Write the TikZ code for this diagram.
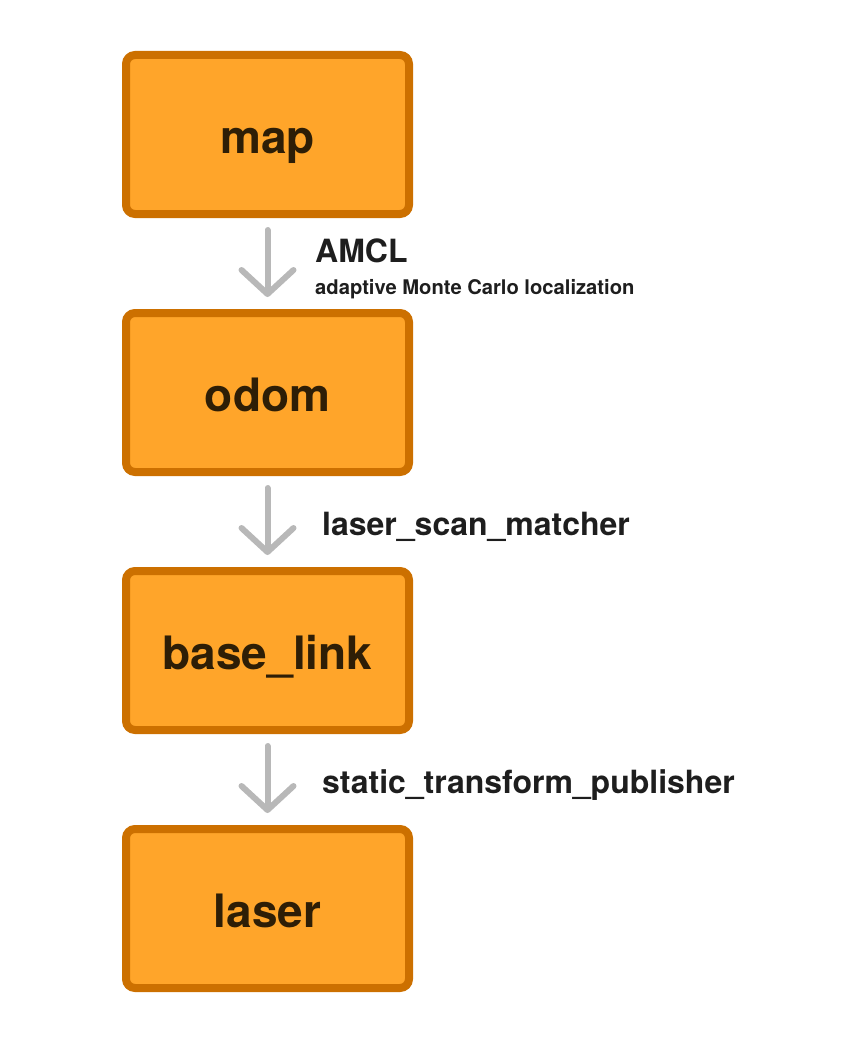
\documentclass[tikz,border=0pt]{standalone}
\usepackage{fontspec}
\setmainfont{TeX Gyre Heros}
\usetikzlibrary{arrows.meta}
\definecolor{boxfill}{HTML}{FFA52A}
\definecolor{boxline}{HTML}{CC7000}
\definecolor{boxtext}{HTML}{2E1E06}
\definecolor{arrowgray}{HTML}{B8B8B8}
\definecolor{labeltext}{HTML}{1E1E1E}
\tikzset{
  frame/.style={draw=boxline, fill=boxfill, line width=8pt, rounded corners=9pt,
    minimum width=283pt, minimum height=159pt, inner sep=0pt,
    text height=37pt, text depth=0pt,
    text=boxtext, font=\bfseries\fontsize{46}{50}\selectfont},
  conn/.style={draw=arrowgray, line width=6pt, line cap=round,
    -{Straight Barb[length=24pt,width=52pt,line cap=round,line join=round]},
    shorten <=12pt, shorten >=12pt},
  lab/.style={anchor=west, inner sep=0pt, text=labeltext, font=\bfseries\fontsize{32}{36}\selectfont},
  sublab/.style={anchor=west, inner sep=0pt, text=labeltext, font=\bfseries\fontsize{20.2}{22}\selectfont}
}
\begin{document}
\begin{tikzpicture}[x=1pt,y=-1pt]
\useasboundingbox (0,0) rectangle (847,1041);
\node[frame] (map) at (267.5,134.5) {map};
\node[frame] (odom) at (267.5,392.5) {odom};
\node[frame] (base) at (267.5,650.5) {base\_link};
\node[frame] (laser) at (267.5,908.5) {laser};
\draw[conn] (map.south) -- (odom.north);
\draw[conn] (odom.south) -- (base.north);
\draw[conn] (base.south) -- (laser.north);
\node[lab] (amcl) at (315,251) {AMCL};
\node[sublab] (amclsub) at (315,289) {adaptive Monte Carlo localization};
\node[lab] (lsm) at (322,527) {laser\_scan\_matcher};
\node[lab] (stp) at (322,785) {static\_transform\_publisher};
\end{tikzpicture}
\end{document}
